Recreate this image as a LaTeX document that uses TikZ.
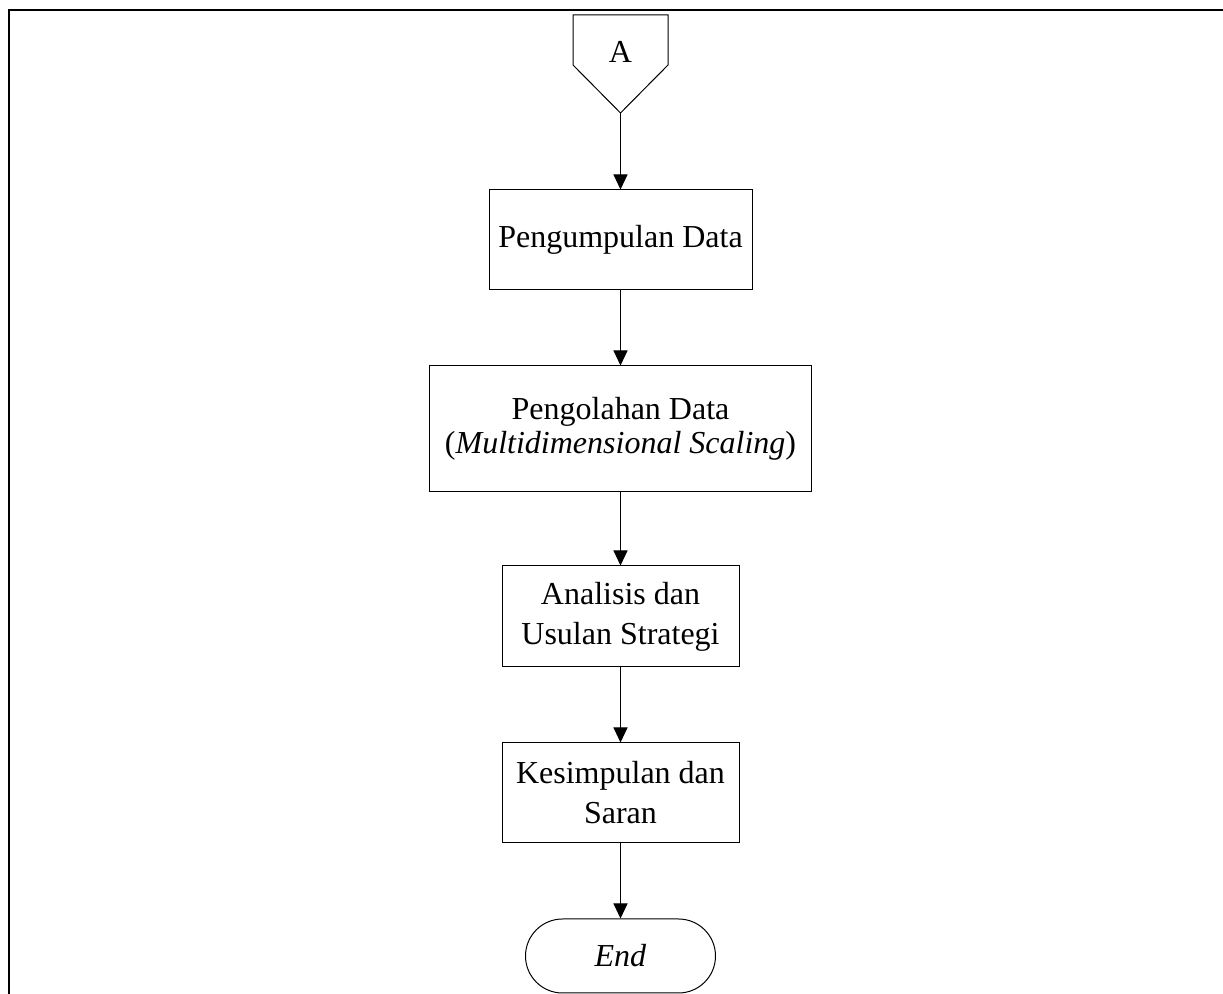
\documentclass[tikz,border=0pt]{standalone}
\usepackage{fontspec}
\setmainfont{Liberation Serif}
\usepackage{tikz}
\usetikzlibrary{arrows.meta, positioning}

\begin{document}
\begin{tikzpicture}[
  x=0.5pt, y=-0.5pt,
  every node/.style={font=\fontsize{16}{20}\selectfont},
  flowbox/.style={rectangle, draw, line width=0.5pt, align=center, inner sep=0pt},
  flowend/.style={rectangle, draw, line width=0.5pt, rounded corners=18.5pt,
                  minimum width=95pt, minimum height=37pt, inner sep=0pt},
  flowarr/.style={-{Triangle[length=7.5pt, width=7pt]}, line width=0.5pt}
]
  \useasboundingbox (0,0) rectangle (1223,994);
  % page frame
  \draw[line width=1pt] (1223,10) -- (9,10) -- (9,994);

  % off-page connector A
  \draw[line width=0.5pt] (573,15) -- (668,15) -- (668,65) -- (620.5,113) -- (573,65) -- cycle;
  \node[anchor=base] (conA) at (620.5,63) {A};
  \coordinate (conAtip) at (620.5,113);

  \node[flowbox, minimum width=131.5pt, minimum height=50pt] (kumpul) at (620.5,240) {Pengumpulan Data};
  \node[flowbox, minimum width=191pt, minimum height=63pt] (olah) at (620.5,429)
    {Pengolahan Data\\[-3pt](\textit{Multidimensional Scaling})};
  \node[flowbox, minimum width=118.5pt, minimum height=50.5pt] (analisis) at (620.5,616.5)
    {Analisis dan\\Usulan Strategi};
  \node[flowbox, minimum width=118.5pt, minimum height=50pt] (simpul) at (620.5,793)
    {Kesimpulan dan\\Saran};
  \node[flowend] (selesai) at (620.5,956) {\textit{End}};

  \draw[flowarr] (conAtip) -- (kumpul.north);
  \draw[flowarr] (kumpul.south) -- (olah.north);
  \draw[flowarr] (olah.south) -- (analisis.north);
  \draw[flowarr] (analisis.south) -- (simpul.north);
  \draw[flowarr] (simpul.south) -- (selesai.north);
\end{tikzpicture}
\end{document}
